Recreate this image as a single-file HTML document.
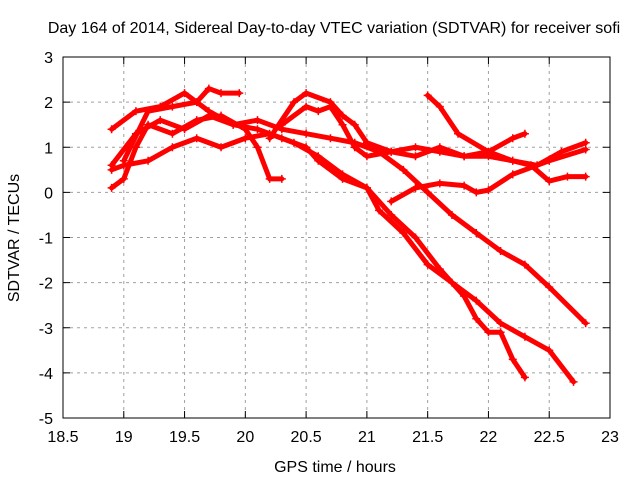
<!DOCTYPE html>
<html><head><meta charset="utf-8"><style>
body{margin:0;background:#fff;}
svg{display:block;font-family:"Liberation Sans",sans-serif;}
</style></head><body>
<svg id="chart" width="640" height="480">
<text x="334" y="33" text-anchor="middle" font-size="16">Day 164 of 2014, Sidereal Day-to-day VTEC variation (SDTVAR) for receiver sofi</text>
<text x="335" y="472" text-anchor="middle" font-size="16">GPS time / hours</text>
<text transform="translate(19,238) rotate(-90)" text-anchor="middle" font-size="16">SDTVAR / TECUs</text>
<g id="grid"></g><g id="ticks"></g><g id="series"></g>
<rect x="63" y="57" width="547" height="361" fill="none" stroke="#000"/>
</svg>
<script>
const xTicks=[18.5,19,19.5,20,20.5,21,21.5,22,22.5,23];
const yTicks=[-5,-4,-3,-2,-1,0,1,2,3];
const trackA=[[18.9,1.4],[19.1,1.8],[19.3,1.9],[19.5,2.2],[19.7,1.8],[19.9,1.5],[20.1,1.4],[20.3,1.2],[20.5,1.0],[20.6,0.7],[20.8,0.3],[21.0,0.1],[21.2,-0.5],[21.4,-1.0],[21.6,-1.7],[21.8,-2.3],[21.9,-2.8],[22.0,-3.1],[22.1,-3.1],[22.2,-3.7],[22.3,-4.1]];
const trackB=[[18.9,0.5],[19.0,0.6],[19.2,0.7],[19.4,1.0],[19.6,1.2],[19.8,1.0],[20.0,1.2],[20.2,1.3],[20.4,1.1],[20.6,0.8],[20.8,0.4],[21.0,0.1],[21.1,-0.4],[21.3,-0.9],[21.5,-1.6],[21.7,-2.0],[21.9,-2.4],[22.1,-2.9],[22.3,-3.2],[22.5,-3.5],[22.7,-4.2]];
const trackC=[[18.9,0.6],[19.1,1.3],[19.3,1.6],[19.5,1.4],[19.7,1.7],[19.9,1.5],[20.1,1.6],[20.3,1.4],[20.5,1.3],[20.7,1.2],[20.9,1.1],[21.1,0.9],[21.3,0.5],[21.5,0.0],[21.7,-0.5],[21.9,-0.9],[22.1,-1.3],[22.3,-1.6],[22.5,-2.1],[22.8,-2.9]];
const trackD=[[18.9,0.1],[19.0,0.3],[19.1,1.0],[19.2,1.5],[19.4,1.3],[19.6,1.6],[19.8,1.7],[20.0,1.4],[20.1,1.0],[20.2,0.3],[20.3,0.3]];
const trackE=[[19.0,0.7],[19.2,1.8],[19.4,1.9],[19.6,2.0],[19.7,2.3],[19.8,2.2],[19.95,2.2]];
const trackF=[[20.2,1.2],[20.4,2.0],[20.5,2.2],[20.7,2.0],[20.8,1.7],[20.9,1.5],[21.0,1.1],[21.2,0.9],[21.4,0.8],[21.6,1.0],[21.8,0.8],[22.0,0.9],[22.2,1.2],[22.3,1.3]];
const trackG=[[20.3,1.5],[20.5,1.9],[20.6,1.8],[20.7,1.9],[20.8,1.5],[20.9,1.0],[21.0,0.8],[21.2,0.9],[21.4,1.0],[21.6,0.9],[21.8,0.8],[22.0,0.8],[22.2,0.7],[22.4,0.6],[22.6,0.9],[22.8,1.1]];
const trackH=[[21.2,-0.2],[21.4,0.1],[21.6,0.2],[21.8,0.15],[21.9,0.0],[22.0,0.05],[22.2,0.4],[22.5,0.7],[22.8,0.95]];
const trackI=[[21.5,2.15],[21.6,1.9],[21.75,1.3],[22.0,0.9],[22.2,0.7],[22.35,0.6],[22.5,0.25],[22.65,0.35],[22.8,0.35]];
const tracks=[trackA,trackB,trackC,trackD,trackE,trackF,trackG,trackH,trackI];
const NS="http://www.w3.org/2000/svg";
const X=v=>63+(v-18.5)/4.5*547;
const Y=v=>57+(3-v)/8*361;
function mk(t,p,a){const e=document.createElementNS(NS,t);for(const k in a)e.setAttribute(k,a[k]);p.appendChild(e);return e;}
const grid=document.getElementById('grid'),ticks=document.getElementById('ticks'),ser=document.getElementById('series');
xTicks.forEach(v=>{
 const x=X(v);
 if(v>18.5&&v<23){const g=mk('line',grid,{x1:x,x2:x,y1:57,y2:418,stroke:'#a0a0a0','stroke-dasharray':'3,4'});
 
 }
 mk('line',ticks,{x1:x,x2:x,y1:418,y2:411,stroke:'#000'});
 mk('line',ticks,{x1:x,x2:x,y1:57,y2:64,stroke:'#000'});
 const t=mk('text',ticks,{x:x,y:442,'text-anchor':'middle','font-size':'16'});t.textContent=v;
 
 
});
yTicks.forEach(v=>{
 const y=Y(v);
 if(v>-5&&v<3){const g=mk('line',grid,{x1:63,x2:610,y1:y,y2:y,stroke:'#a0a0a0','stroke-dasharray':'3,4'});
 
 }
 mk('line',ticks,{x1:63,x2:70,y1:y,y2:y,stroke:'#000'});
 mk('line',ticks,{x1:610,x2:603,y1:y,y2:y,stroke:'#000'});
 const t=mk('text',ticks,{x:53,y:y+6,'text-anchor':'end','font-size':'16'});t.textContent=v;
 
 
});
tracks.forEach((tr,i)=>{
 const pl=mk('polyline',ser,{points:tr.map(p=>X(p[0])+','+Y(p[1])).join(' '),fill:'none',stroke:'#ff0000','stroke-width':'5','stroke-linejoin':'round','stroke-linecap':'round'});
 
 
 tr.forEach(p=>{const x=X(p[0]),y=Y(p[1]);
  const m=mk('path',ser,{d:`M${x-4},${y}H${x+4}M${x},${y-4}V${y+4}`,stroke:'#ff0000','stroke-width':'1.5'});
  
  });
});
</script>
</body></html>
